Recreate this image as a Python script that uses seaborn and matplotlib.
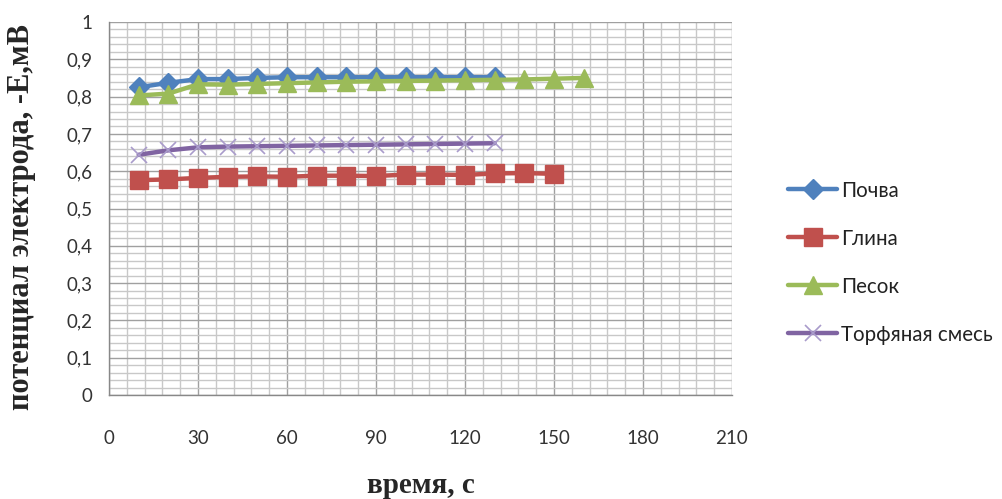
import numpy as np
import pandas as pd
import matplotlib
matplotlib.use("Agg")
import matplotlib.pyplot as plt
from matplotlib.ticker import MultipleLocator, FuncFormatter
import seaborn as sns

# time points, s
t_pochva = [10, 20, 30, 40, 50, 60, 70, 80, 90, 100, 110, 120, 130]
t_glina = [10, 20, 30, 40, 50, 60, 70, 80, 90, 100, 110, 120, 130, 140, 150]
t_pesok = [10, 20, 30, 40, 50, 60, 70, 80, 90, 100, 110, 120, 130, 140, 150, 160]
t_torf = [10, 20, 30, 40, 50, 60, 70, 80, 90, 100, 110, 120, 130]

# electrode potential, -E, mV
e_pochva = [0.825, 0.837, 0.847, 0.847, 0.850, 0.852, 0.852, 0.852, 0.852, 0.852, 0.852, 0.852, 0.852]
e_glina = [0.576, 0.578, 0.582, 0.585, 0.586, 0.585, 0.588, 0.588, 0.587, 0.591, 0.591, 0.590, 0.594, 0.595, 0.593]
e_pesok = [0.803, 0.808, 0.833, 0.832, 0.834, 0.836, 0.838, 0.840, 0.841, 0.842, 0.843, 0.844, 0.845, 0.846, 0.848, 0.850]
e_torf = [0.644, 0.656, 0.664, 0.666, 0.667, 0.668, 0.669, 0.670, 0.671, 0.672, 0.673, 0.674, 0.675]

names = ["Почва", "Глина", "Песок", "Торфяная смесь"]

x_ticks = [0, 30, 60, 90, 120, 150, 180, 210]
y_ticks = [0, 0.1, 0.2, 0.3, 0.4, 0.5, 0.6, 0.7, 0.8, 0.9, 1.0]

sns.set_style("white")
plt.rcParams["font.family"] = ["Lato", "DejaVu Sans"]

fig = plt.figure(figsize=(10.02, 4.99), dpi=100)
ax = fig.add_axes([0.1088, 0.2084, 0.6217, 0.7475])

styles = [
    dict(color="#4F81BD", marker="D", markersize=10, mec="#4F81BD", mew=1),
    dict(color="#C0504D", marker="s", markersize=13, mec="#C0504D", mew=1),
    dict(color="#9BBB59", marker="^", markersize=13, mec="#9BBB59", mew=1),
    dict(color="#8064A2", marker="x", markersize=11, mec="#A99BCB", mew=1.2),
]
series = [(t_pochva, e_pochva), (t_glina, e_glina), (t_pesok, e_pesok), (t_torf, e_torf)]

for (t, e), name, st in zip(series, names, styles):
    df = pd.DataFrame({"t": t, "e": e})
    sns.lineplot(data=df, x="t", y="e", ax=ax, linewidth=3.2, label=name,
                 markeredgecolor=st["mec"], markeredgewidth=st["mew"],
                 color=st["color"], marker=st["marker"], markersize=st["markersize"],
                 zorder=3)

ax.set_xlim(0, 210)
ax.set_ylim(0, 1)
ax.set_xticks(x_ticks)
ax.set_yticks(y_ticks)
ax.xaxis.set_minor_locator(MultipleLocator(6))
ax.yaxis.set_minor_locator(MultipleLocator(0.02))

def comma_fmt(v, pos):
    if abs(v - round(v)) < 1e-9:
        return f"{int(round(v))}"
    return f"{v:.1f}".replace(".", ",")

ax.yaxis.set_major_formatter(FuncFormatter(comma_fmt))

ax.grid(which="minor", color="#C8C8C8", linewidth=1.0)
ax.grid(which="major", color="#A0A0A0", linewidth=1.0)
ax.set_axisbelow(True)

for side in ["top", "right"]:
    ax.spines[side].set_visible(False)
for side in ["left", "bottom"]:
    ax.spines[side].set_color("#888888")
    ax.spines[side].set_linewidth(1.0)

ax.tick_params(which="major", direction="out", length=6, width=1, color="#888888",
               labelsize=13.5, labelcolor="#333333", pad=6)
ax.tick_params(which="minor", length=0)
ax.tick_params(axis="x", pad=19)

ax.set_xlabel("время, с", family=["Liberation Serif"], fontweight="bold",
              fontsize=21, labelpad=18)
ax.set_ylabel("потенциал электрода, -Е,мВ", family=["Liberation Serif"],
              fontweight="bold", fontsize=22, labelpad=14)
ax.yaxis.set_label_coords(-0.118, 0.476)

leg = ax.legend(loc="center left", bbox_to_anchor=(1.06, 0.355), frameon=False,
                fontsize=14.8, handlelength=2.4, handletextpad=0.2, labelspacing=1.36,
                labelcolor="#222222")

fig.savefig("out.png", dpi=100)
